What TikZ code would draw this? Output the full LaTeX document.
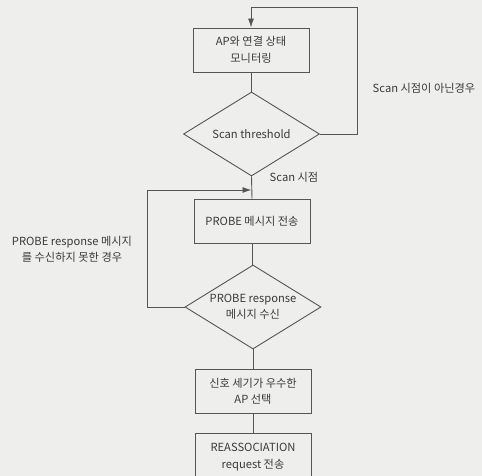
\documentclass[tikz,border=0pt]{standalone}
\usepackage{fontspec}
\setmainfont{Noto Sans CJK KR}
\usetikzlibrary{shapes.geometric,arrows.meta}
\definecolor{paper}{HTML}{EEEEEC}
\definecolor{ink}{HTML}{555555}
\definecolor{txt}{HTML}{3A3A3A}
\tikzset{
  procbox/.style={draw=ink, line width=0.9pt, minimum width=116pt, minimum height=44pt, align=center, inner sep=0pt, text=txt, font=\fontsize{11.2}{16.5}\selectfont},
  decide/.style={draw=ink, line width=0.9pt, diamond, minimum width=136pt, minimum height=84pt, inner sep=0pt},
  dtext/.style={align=center, inner sep=0pt, text=txt, font=\fontsize{11.2}{15.5}\selectfont},
  conn/.style={draw=ink, line width=0.9pt},
  arr/.style={conn, -{Latex[length=9pt,width=6pt]}},
  lbl/.style={text=txt, align=center, font=\fontsize{11.2}{16}\selectfont, inner sep=0pt}
}
\begin{document}
\begin{tikzpicture}[x=1pt,y=-1pt]
\fill[paper] (0,0) rectangle (482,476);
\useasboundingbox (0,0) rectangle (482,476);
\node[procbox] (b1) at (251,50) {AP와 연결 상태\\모니터링};
\node[decide, label={[dtext]center:Scan threshold}] (d1) at (251.5,134) {};
\node[procbox] (b2) at (252,221) {PROBE 메시지 전송};
\node[decide, label={[dtext]center:PROBE response\\메시지 수신}] (d2) at (253,307) {};
\node[procbox] (b3) at (253,391.5) {신호 세기가 우수한\\AP 선택};
\node[procbox, minimum height=48pt] (b4) at (253,457) {REASSOCIATION\\request 전송};
\coordinate (j) at (251.5,190);
\coordinate (t1) at (357,7);
\coordinate (t2) at (147,307);
\node[lbl] (l1) at (424,88) {Scan 시점이 아닌경우};
\node[lbl] (l2) at (294,177) {Scan 시점};
\node[lbl] (l3) at (72,249) {PROBE response 메시지\\를 수신하지 못한 경우};
\draw[conn] (b1.south) -- (b1.south |- d1.north);
\draw[conn] (d1.south) -- (b2.north);
\draw[conn] (b2.south) -- (b2.south |- d2.north);
\draw[conn] (d2.south) -- (b3.north);
\draw[conn] (b3.south) -- (b4.north);
\draw[arr] (d1.east) -- (d1.east -| t1) -- (t1) -- (t1 -| b1.north) -- (b1.north);
\draw[arr] (d2.west) -- (t2) -- (t2 |- j) -- (j);
\end{tikzpicture}
\end{document}
